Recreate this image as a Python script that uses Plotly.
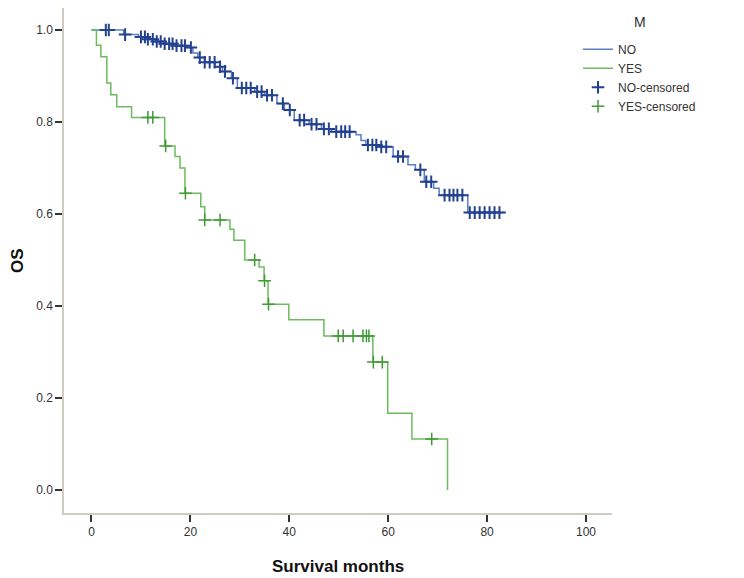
import plotly.graph_objects as go

# ---- data ----
no_time = [0, 6.5, 9.5, 11, 13, 15, 17, 19, 20.5, 21.5, 23, 25, 26.5, 28.3, 29.5, 33, 35, 37.5, 39, 41,
           44, 46.5, 48.5, 53.5, 54.5, 55.5, 58, 61, 64, 65.5, 67.3, 69.2, 70.3, 76.1, 83.5]
no_surv = [1.0, 0.99, 0.985, 0.98, 0.975, 0.97, 0.966, 0.962, 0.95, 0.94, 0.93, 0.92, 0.91, 0.895, 0.874,
           0.866, 0.858, 0.84, 0.826, 0.804, 0.795, 0.785, 0.779, 0.772, 0.76, 0.75, 0.746, 0.725, 0.707,
           0.696, 0.67, 0.656, 0.641, 0.603, 0.603]

no_cens_time = [2.9, 3.5, 6.8, 10, 10.8, 11.4, 12.4, 13.2, 14, 14.8, 15.7, 16.4, 17.2, 18.2, 18.9, 20.1,
                21.9, 22.9, 23.9, 24.9, 26, 27, 28.6, 30.4, 31.3, 32.2, 33.5, 34.4, 35.5, 36.5, 38.7, 40.1,
                42.1, 43, 44.5, 45.5, 47, 48, 49.5, 50.5, 51.3, 52.2, 55.9, 56.8, 57.6, 58.6, 59.6, 62, 63,
                66.5, 67.7, 68.7, 71.4, 72.4, 73.2, 74, 75, 76.5, 77.5, 78.5, 79.5, 80.5, 81.5, 82.5]
no_cens_surv = [1.0, 1.0, 0.99, 0.985, 0.985, 0.98, 0.98, 0.975, 0.975, 0.97, 0.97, 0.97, 0.966, 0.966,
                0.966, 0.962, 0.94, 0.93, 0.93, 0.93, 0.92, 0.91, 0.895, 0.874, 0.874, 0.874, 0.866, 0.866,
                0.858, 0.858, 0.84, 0.826, 0.804, 0.804, 0.795, 0.795, 0.785, 0.785, 0.779, 0.779, 0.779,
                0.779, 0.75, 0.75, 0.75, 0.746, 0.746, 0.725, 0.725, 0.696, 0.67, 0.67, 0.641, 0.641, 0.641,
                0.641, 0.641, 0.603, 0.603, 0.603, 0.603, 0.603, 0.603, 0.603]

yes_time = [0, 1.0, 1.9, 3.1, 3.9, 5.1, 8.1, 14.8, 16.9, 17.9, 18.9, 22.1, 22.9, 28.0, 28.8, 31.0, 33.9,
            34.9, 35.7, 39.9, 47.0, 56.9, 59.9, 64.8, 72.0]
yes_surv = [1.0, 0.967, 0.942, 0.885, 0.859, 0.833, 0.81, 0.748, 0.725, 0.70, 0.645, 0.616, 0.587, 0.567,
            0.543, 0.50, 0.485, 0.455, 0.404, 0.37, 0.335, 0.278, 0.167, 0.111, 0.0]

yes_cens_time = [11.4, 12.4, 15.0, 19.0, 22.9, 26.0, 33.0, 35.0, 35.8, 49.9, 50.9, 52.9, 54.9, 55.6, 56.1,
                 57.0, 58.8, 68.8]
yes_cens_surv = [0.81, 0.81, 0.748, 0.645, 0.587, 0.587, 0.50, 0.455, 0.404, 0.335, 0.335, 0.335, 0.335,
                 0.335, 0.335, 0.278, 0.278, 0.111]

x_ticks = [0, 20, 40, 60, 80, 100]
y_ticks = [0.0, 0.2, 0.4, 0.6, 0.8, 1.0]

BLUE_LINE = "#5b7fc4"
BLUE_MARK = "#23418f"
GREEN_LINE = "#6dbb5f"
GREEN_MARK = "#3f9a35"

fig = go.Figure()
fig.add_trace(go.Scatter(x=no_time, y=no_surv, mode="lines", line_shape="hv",
                         line=dict(color=BLUE_LINE, width=1.5), name="NO"))
fig.add_trace(go.Scatter(x=yes_time, y=yes_surv, mode="lines", line_shape="hv",
                         line=dict(color=GREEN_LINE, width=1.5), name="YES"))
fig.add_trace(go.Scatter(x=no_cens_time, y=no_cens_surv, mode="markers", name="NO-censored",
                         marker=dict(symbol="cross-thin", size=9,
                                     line=dict(color=BLUE_MARK, width=2))))
fig.add_trace(go.Scatter(x=yes_cens_time, y=yes_cens_surv, mode="markers", name="YES-censored",
                         marker=dict(symbol="cross-thin", size=9,
                                     line=dict(color=GREEN_MARK, width=1.5))))

FONT = "Liberation Sans, Arial, sans-serif"
axis_font = dict(family=FONT, size=12, color="#333333")
title_font = dict(family=FONT, size=17, color="#111111")

fig.update_layout(
    width=736, height=570,
    margin=dict(l=56, r=132, t=0, b=65),
    plot_bgcolor="white", paper_bgcolor="white",
    font=axis_font,
    showlegend=True,
    legend=dict(x=0.938, y=0.947, xanchor="left", yanchor="top",
                bgcolor="rgba(0,0,0,0)", font=dict(size=12, color="#333333"),
                itemwidth=30, tracegroupgap=0),
    xaxis=dict(range=[-5.56, 105.26], tickvals=x_ticks, ticktext=[str(v) for v in x_ticks],
               showgrid=False, zeroline=False, showline=True, linecolor="#cfcbc0", linewidth=1.5,
               ticks="outside", ticklen=7, tickwidth=1.5, tickcolor="#333333",
               tickfont=axis_font, automargin=False),
    yaxis=dict(range=[-0.05, 1.0478], tickvals=y_ticks, ticktext=[f"{v:.1f}" for v in y_ticks],
               showgrid=False, zeroline=False, showline=True, linecolor="#cfcbc0", linewidth=1.5,
               ticks="outside", ticklen=7, tickwidth=1.5, tickcolor="#333333",
               tickfont=axis_font, automargin=False),
    annotations=[
        dict(text="<b>Survival months</b>", xref="paper", yref="paper", x=0.5, y=-0.105,
             xanchor="center", yanchor="middle", showarrow=False, font=title_font),
        dict(text="<b>OS</b>", xref="paper", yref="paper", x=-0.084, y=0.501, textangle=-90,
             xanchor="center", yanchor="middle", showarrow=False, font=title_font),
        dict(text="M", xref="paper", yref="paper", x=1.051, y=0.972,
             xanchor="center", yanchor="middle", showarrow=False,
             font=dict(family=FONT, size=14, color="#333333")),
    ],
)

fig.write_html("out.html")
